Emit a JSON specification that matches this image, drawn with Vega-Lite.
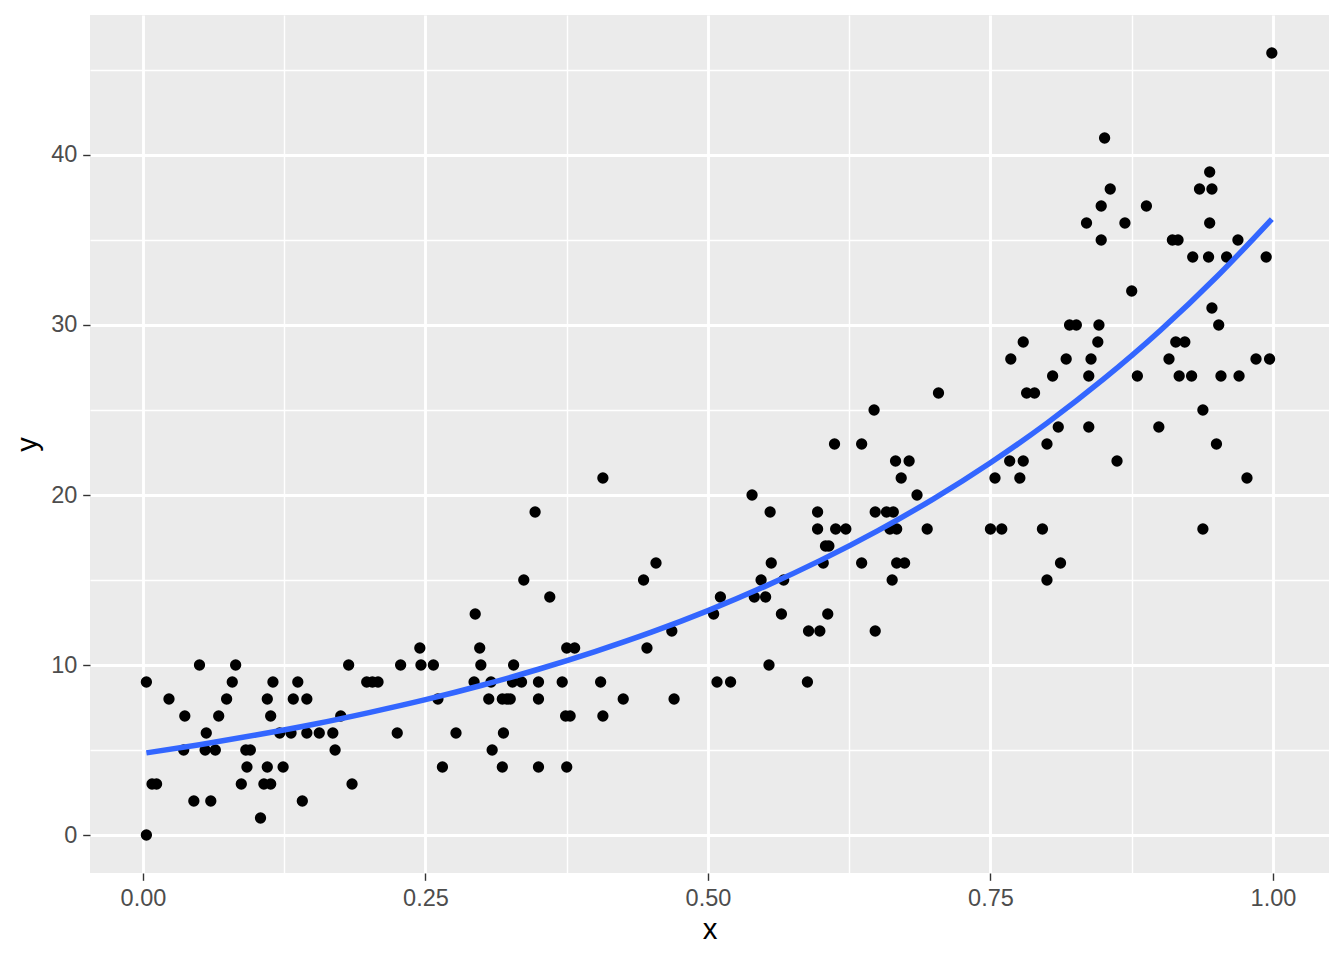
{
  "$schema": "https://vega.github.io/schema/vega-lite/v6.json",
  "width": 1239,
  "height": 858,
  "autosize": {"type": "none"},
  "padding": {"left": 90, "top": 15, "right": 15, "bottom": 87},
  "background": "white",
  "view": {"fill": "#EBEBEB", "stroke": null},
  "config": {
    "font": "Liberation Sans",
    "axis": {
      "domain": false,
      "gridColor": "#FFFFFF",
      "labelColor": "#4D4D4D",
      "labelFontSize": 23.5,
      "tickColor": "#333333",
      "tickSize": 7.3,
      "tickWidth": 1.4,
      "labelPadding": 5.9,
      "titleFontSize": 29.3,
      "titleColor": "#000000",
      "titleFontWeight": "normal"
    }
  },
  "datasets": {
    "pts": [
      {"x":0.050,"y":10},{"x":0.082,"y":10},{"x":0.182,"y":10},
      {"x":0.003,"y":9},{"x":0.079,"y":9},{"x":0.115,"y":9},{"x":0.137,"y":9},
      {"x":0.023,"y":8},{"x":0.074,"y":8},{"x":0.110,"y":8},{"x":0.133,"y":8},{"x":0.145,"y":8},
      {"x":0.037,"y":7},{"x":0.067,"y":7},{"x":0.113,"y":7},{"x":0.175,"y":7},
      {"x":0.056,"y":6},{"x":0.121,"y":6},{"x":0.131,"y":6},{"x":0.145,"y":6},{"x":0.156,"y":6},{"x":0.168,"y":6},
      {"x":0.036,"y":5},{"x":0.055,"y":5},{"x":0.064,"y":5},{"x":0.091,"y":5},{"x":0.095,"y":5},{"x":0.170,"y":5},
      {"x":0.092,"y":4},{"x":0.110,"y":4},{"x":0.124,"y":4},
      {"x":0.008,"y":3},{"x":0.012,"y":3},{"x":0.087,"y":3},{"x":0.107,"y":3},{"x":0.113,"y":3},{"x":0.185,"y":3},
      {"x":0.045,"y":2},{"x":0.060,"y":2},{"x":0.141,"y":2},
      {"x":0.104,"y":1},
      {"x":0.003,"y":0},
      {"x":0.337,"y":15},{"x":0.360,"y":14},{"x":0.294,"y":13},{"x":0.347,"y":19},
      {"x":0.245,"y":11},{"x":0.298,"y":11},{"x":0.375,"y":11},{"x":0.382,"y":11},
      {"x":0.228,"y":10},{"x":0.246,"y":10},{"x":0.257,"y":10},{"x":0.299,"y":10},{"x":0.328,"y":10},
      {"x":0.198,"y":9},{"x":0.203,"y":9},{"x":0.208,"y":9},{"x":0.293,"y":9},{"x":0.308,"y":9},{"x":0.327,"y":9},{"x":0.335,"y":9},{"x":0.350,"y":9},{"x":0.371,"y":9},
      {"x":0.261,"y":8},{"x":0.306,"y":8},{"x":0.318,"y":8},{"x":0.322,"y":8},{"x":0.325,"y":8},{"x":0.350,"y":8},
      {"x":0.374,"y":7},{"x":0.378,"y":7},
      {"x":0.225,"y":6},{"x":0.277,"y":6},{"x":0.319,"y":6},
      {"x":0.309,"y":5},
      {"x":0.265,"y":4},{"x":0.318,"y":4},{"x":0.350,"y":4},{"x":0.375,"y":4},
      {"x":0.407,"y":21},{"x":0.539,"y":20},{"x":0.555,"y":19},{"x":0.454,"y":16},{"x":0.556,"y":16},{"x":0.443,"y":15},{"x":0.547,"y":15},{"x":0.567,"y":15},
      {"x":0.511,"y":14},{"x":0.541,"y":14},{"x":0.551,"y":14},{"x":0.505,"y":13},{"x":0.565,"y":13},{"x":0.468,"y":12},{"x":0.446,"y":11},{"x":0.554,"y":10},
      {"x":0.405,"y":9},{"x":0.508,"y":9},{"x":0.520,"y":9},{"x":0.425,"y":8},{"x":0.470,"y":8},{"x":0.407,"y":7},
      {"x":0.704,"y":26},{"x":0.647,"y":25},{"x":0.612,"y":23},{"x":0.636,"y":23},{"x":0.666,"y":22},{"x":0.678,"y":22},{"x":0.671,"y":21},{"x":0.685,"y":20},
      {"x":0.597,"y":19},{"x":0.648,"y":19},{"x":0.658,"y":19},{"x":0.664,"y":19},
      {"x":0.597,"y":18},{"x":0.613,"y":18},{"x":0.622,"y":18},{"x":0.661,"y":18},{"x":0.667,"y":18},{"x":0.694,"y":18},
      {"x":0.604,"y":17},{"x":0.607,"y":17},
      {"x":0.602,"y":16},{"x":0.636,"y":16},{"x":0.667,"y":16},{"x":0.674,"y":16},
      {"x":0.663,"y":15},{"x":0.606,"y":13},
      {"x":0.589,"y":12},{"x":0.599,"y":12},{"x":0.648,"y":12},
      {"x":0.588,"y":9},
      {"x":0.820,"y":30},{"x":0.826,"y":30},{"x":0.846,"y":30},{"x":0.779,"y":29},{"x":0.845,"y":29},{"x":0.768,"y":28},{"x":0.817,"y":28},{"x":0.839,"y":28},
      {"x":0.805,"y":27},{"x":0.837,"y":27},{"x":0.782,"y":26},{"x":0.789,"y":26},{"x":0.810,"y":24},{"x":0.837,"y":24},{"x":0.800,"y":23},{"x":0.767,"y":22},{"x":0.779,"y":22},
      {"x":0.754,"y":21},{"x":0.776,"y":21},{"x":0.750,"y":18},{"x":0.760,"y":18},{"x":0.796,"y":18},{"x":0.812,"y":16},{"x":0.800,"y":15},
      {"x":0.851,"y":41},{"x":0.944,"y":39},{"x":0.856,"y":38},{"x":0.935,"y":38},{"x":0.946,"y":38},{"x":0.848,"y":37},{"x":0.888,"y":37},{"x":0.835,"y":36},{"x":0.869,"y":36},{"x":0.944,"y":36},
      {"x":0.848,"y":35},{"x":0.911,"y":35},{"x":0.916,"y":35},{"x":0.969,"y":35},{"x":0.929,"y":34},{"x":0.943,"y":34},{"x":0.959,"y":34},{"x":0.994,"y":34},
      {"x":0.875,"y":32},{"x":0.946,"y":31},{"x":0.952,"y":30},{"x":0.914,"y":29},{"x":0.922,"y":29},{"x":0.908,"y":28},{"x":0.985,"y":28},{"x":0.997,"y":28},
      {"x":0.880,"y":27},{"x":0.917,"y":27},{"x":0.928,"y":27},{"x":0.954,"y":27},{"x":0.970,"y":27},{"x":0.938,"y":25},{"x":0.899,"y":24},{"x":0.950,"y":23},{"x":0.862,"y":22},{"x":0.977,"y":21},
      {"x":0.938,"y":18},{"x":0.999,"y":46}
    ],
    "curve": [
      {"x":0.003,"y":4.83},{"x":0.05,"y":5.31},{"x":0.1,"y":5.88},{"x":0.15,"y":6.50},{"x":0.2,"y":7.20},
      {"x":0.25,"y":7.96},{"x":0.3,"y":8.81},{"x":0.35,"y":9.75},{"x":0.4,"y":10.79},{"x":0.45,"y":11.93},
      {"x":0.5,"y":13.20},{"x":0.55,"y":14.61},{"x":0.6,"y":16.17},{"x":0.65,"y":17.89},{"x":0.7,"y":19.79},
      {"x":0.75,"y":21.90},{"x":0.8,"y":24.23},{"x":0.85,"y":26.81},{"x":0.9,"y":29.66},{"x":0.95,"y":32.82},
      {"x":0.999,"y":36.23}
    ]
  },
  "resolve": {"axis": {"x": "independent", "y": "independent"}},
  "layer": [
    {
      "data": {"name": "curve"},
      "mark": {"type": "line", "opacity": 0},
      "encoding": {
        "x": {"field": "x", "type": "quantitative", "scale": {"domain": [-0.0469, 1.0496], "nice": false, "zero": false},
              "axis": {"orient": "top", "values": [0.125, 0.375, 0.625, 0.875], "grid": true, "gridWidth": 1.42, "labels": false, "ticks": false, "domain": false, "title": null}},
        "y": {"field": "y", "type": "quantitative", "scale": {"domain": [-2.235, 48.235], "nice": false, "zero": false},
              "axis": {"orient": "right", "values": [5, 15, 25, 35, 45], "grid": true, "gridWidth": 1.42, "labels": false, "ticks": false, "domain": false, "title": null}}
      }
    },
    {
      "data": {"name": "pts"},
      "mark": {"type": "circle", "size": 128, "color": "#000000", "opacity": 1},
      "encoding": {
        "x": {"field": "x", "type": "quantitative", "scale": {"domain": [-0.0469, 1.0496], "nice": false, "zero": false},
              "axis": {"orient": "bottom", "values": [0, 0.25, 0.5, 0.75, 1], "format": ".2f", "grid": true, "gridWidth": 2.85, "title": "x", "titlePadding": 6}},
        "y": {"field": "y", "type": "quantitative", "scale": {"domain": [-2.235, 48.235], "nice": false, "zero": false},
              "axis": {"orient": "left", "values": [0, 10, 20, 30, 40], "format": "d", "grid": true, "gridWidth": 2.85, "title": "y", "titlePadding": 8}}
      }
    },
    {
      "data": {"name": "curve"},
      "mark": {"type": "line", "color": "#3366FF", "strokeWidth": 5.5, "interpolate": "monotone"},
      "encoding": {
        "x": {"field": "x", "type": "quantitative", "axis": null},
        "y": {"field": "y", "type": "quantitative", "axis": null}
      }
    }
  ]
}
